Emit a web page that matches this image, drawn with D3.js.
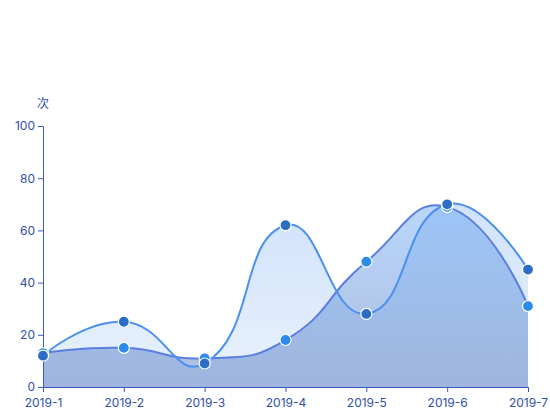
<!DOCTYPE html>
<html>
<head>
<meta charset="utf-8">
<script src="https://cdn.jsdelivr.net/npm/d3@7"></script>
<style>
  body { margin: 0; background: #fff; }
  svg text { font-family: Inter, "Noto Sans CJK SC", sans-serif; }
</style>
</head>
<body>
<div id="chart"></div>
<script>
var months = ["2019-1", "2019-2", "2019-3", "2019-4", "2019-5", "2019-6", "2019-7"];
var seriesA = [12, 25, 9, 62, 28, 70, 45];
var seriesB = [13, 15, 11, 18, 48, 69, 31];
var yTicks = [0, 20, 40, 60, 80, 100];
var yUnit = "次";

var width = 550, height = 420;
var margin = {left: 43, right: 22, top: 126, bottom: 33};
var axisColor = "#3a5ac4";
var labelColor = "#3050a8";

var svg = d3.select("#chart")
    .append("svg")
    .attr("width", width)
    .attr("height", height);

var x = d3.scalePoint()
    .domain(months)
    .range([margin.left, width - margin.right]);

var y = d3.scaleLinear()
    .domain([0, 100])
    .range([height - margin.bottom, margin.top]);

// echarts-like smooth bezier (smooth = 0.5)
function smoothPath(pts, smooth) {
    var p = "M" + pts[0][0] + "," + pts[0][1];
    var cpx0 = pts[0][0], cpy0 = pts[0][1];
    for (var i = 1; i < pts.length; i++) {
        var px = pts[i - 1][0], py = pts[i - 1][1];
        var cx = pts[i][0], cy = pts[i][1];
        var cpx1, cpy1, vx = 0, vy = 0, ratio = 0.5;
        if (i === pts.length - 1) {
            cpx1 = cx; cpy1 = cy;
        } else {
            var nx = pts[i + 1][0], ny = pts[i + 1][1];
            vx = nx - px; vy = ny - py;
            var lp = Math.hypot(cx - px, cy - py);
            var ln = Math.hypot(nx - cx, ny - cy);
            ratio = ln / (ln + lp);
            cpx1 = cx - vx * smooth * (1 - ratio);
            cpy1 = cy - vy * smooth * (1 - ratio);
        }
        p += "C" + cpx0 + "," + cpy0 + "," + cpx1 + "," + cpy1 + "," + cx + "," + cy;
        cpx0 = cx + vx * smooth * ratio;
        cpy0 = cy + vy * smooth * ratio;
    }
    return p;
}

function points(values) {
    return values.map(function (v, i) {
        return [x(months[i]), y(v)];
    });
}

var defs = svg.append("defs");

function gradient(id, stops) {
    var g = defs.append("linearGradient")
        .attr("id", id)
        .attr("x1", 0).attr("y1", 0)
        .attr("x2", 0).attr("y2", 1);
    stops.forEach(function (s) {
        g.append("stop")
            .attr("offset", s[0])
            .attr("stop-color", s[1])
            .attr("stop-opacity", s[2]);
    });
}
gradient("gradA", [[0, "#4a90f0", 0.26], [1, "#4a90f0", 0.12]]);
gradient("gradB", [[0, "#509af3", 0.4], [1, "#3a61b0", 0.42]]);

var series = [
    {name: "A", values: seriesA, line: "#4a90ef", marker: "#2b6cc4", fill: "url(#gradA)"},
    {name: "B", values: seriesB, line: "#5b7fe0", marker: "#2b8bea", fill: "url(#gradB)"}
];

// areas
series.forEach(function (s) {
    var pts = points(s.values);
    var base = y(0);
    svg.append("path")
        .attr("d", smoothPath(pts, 0.5) +
            "L" + pts[pts.length - 1][0] + "," + base +
            "L" + pts[0][0] + "," + base + "Z")
        .attr("fill", s.fill);
});

// axes
var yAxis = svg.append("g")
    .attr("transform", "translate(" + margin.left + ",0)")
    .call(d3.axisLeft(y).tickValues(yTicks).tickSize(5).tickPadding(3));

var xAxis = svg.append("g")
    .attr("transform", "translate(0," + y(0) + ")")
    .call(d3.axisBottom(x).tickSize(5).tickPadding(6));

[yAxis, xAxis].forEach(function (g) {
    g.selectAll("path.domain").attr("stroke", axisColor).attr("stroke-width", 1);
    g.selectAll(".tick line").attr("stroke", axisColor);
    g.selectAll(".tick text")
        .attr("fill", labelColor)
        .style("font-size", "12px");
});

svg.append("text")
    .attr("x", margin.left)
    .attr("y", 108)
    .attr("text-anchor", "middle")
    .attr("fill", labelColor)
    .style("font-size", "12px")
    .text(yUnit);

// lines
series.slice().reverse().forEach(function (s) {
    svg.append("path")
        .attr("d", smoothPath(points(s.values), 0.5))
        .attr("fill", "none")
        .attr("stroke", s.line)
        .attr("stroke-width", 2);
});

// markers
series.slice().reverse().forEach(function (s) {
    svg.append("g")
        .selectAll("circle")
        .data(s.values)
        .enter().append("circle")
        .attr("cx", function (d, i) { return x(months[i]); })
        .attr("cy", function (d) { return y(d); })
        .attr("r", 5.5)
        .attr("fill", s.marker)
        .attr("stroke", "#fff")
        .attr("stroke-width", 1.2);
});
</script>
</body>
</html>
